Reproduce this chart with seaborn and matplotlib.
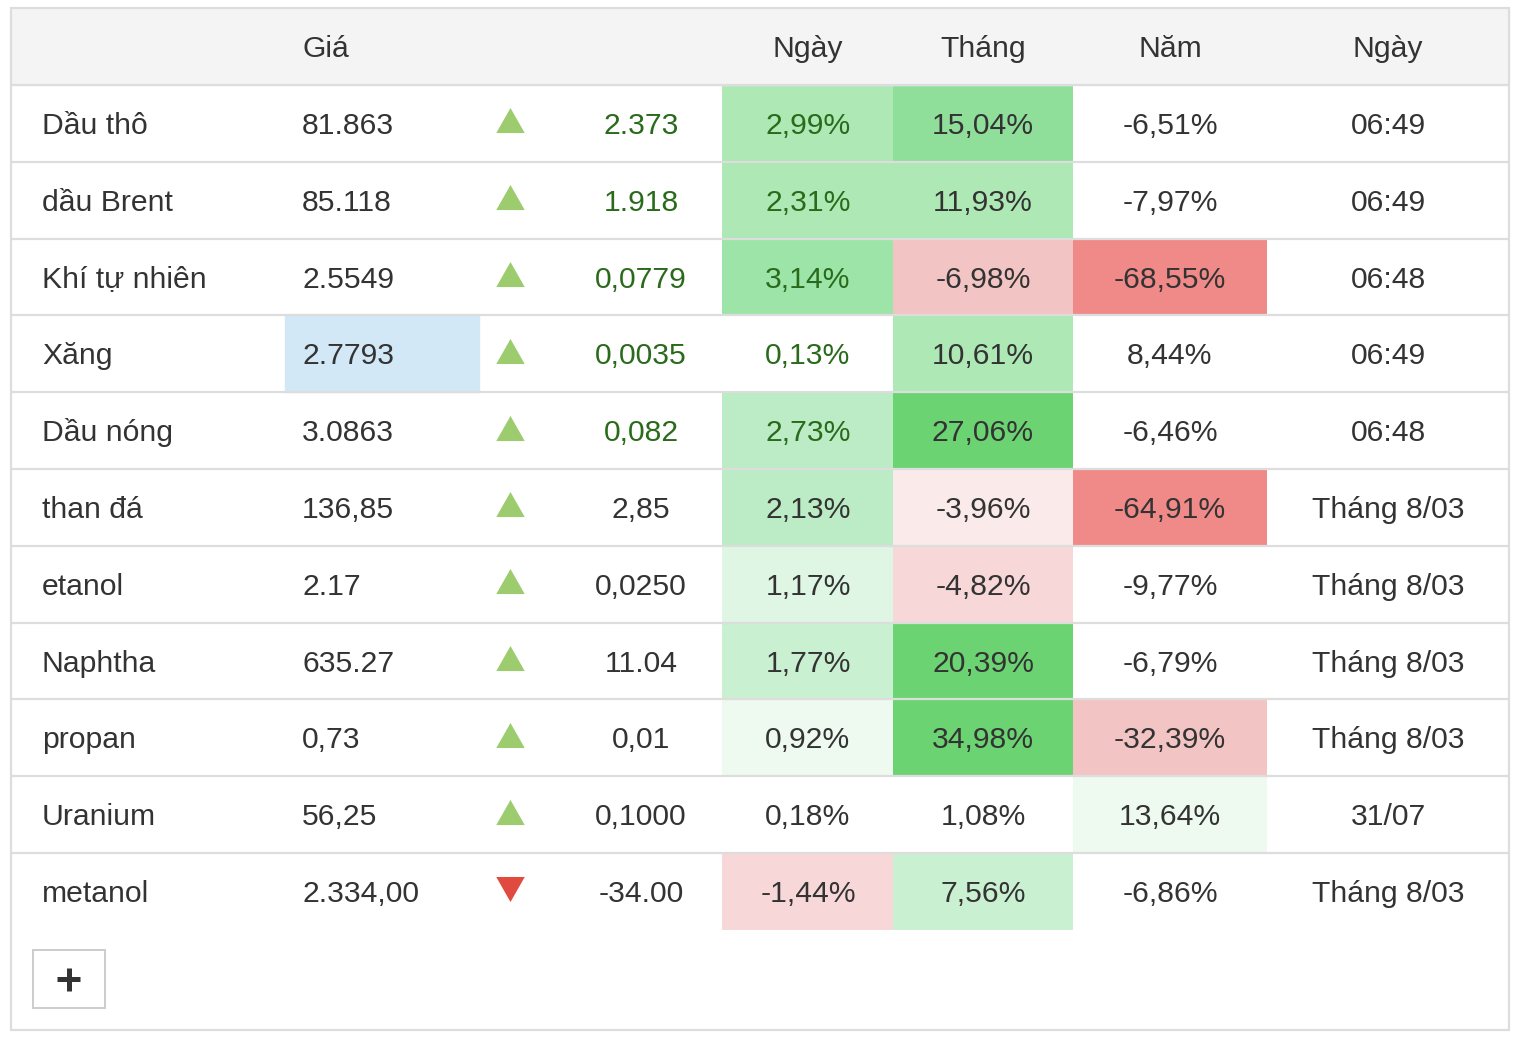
import numpy as np
import matplotlib.pyplot as plt
from matplotlib.colors import ListedColormap
from matplotlib.patches import Rectangle
import seaborn as sns

# --- table data ---
names = ["Dầu thô", "dầu Brent", "Khí tự nhiên", "Xăng", "Dầu nóng", "than đá",
         "etanol", "Naphtha", "propan", "Uranium", "metanol"]
prices = ["81.863", "85.118", "2.5549", "2.7793", "3.0863", "136,85",
          "2.17", "635.27", "0,73", "56,25", "2.334,00"]
changes = ["2.373", "1.918", "0,0779", "0,0035", "0,082", "2,85",
           "0,0250", "11.04", "0,01", "0,1000", "-34.00"]
direction = [1, 1, 1, 1, 1, 1, 1, 1, 1, 1, -1]
day_pct = ["2,99%", "2,31%", "3,14%", "0,13%", "2,73%", "2,13%",
           "1,17%", "1,77%", "0,92%", "0,18%", "-1,44%"]
month_pct = ["15,04%", "11,93%", "-6,98%", "10,61%", "27,06%", "-3,96%",
             "-4,82%", "20,39%", "34,98%", "1,08%", "7,56%"]
year_pct = ["-6,51%", "-7,97%", "-68,55%", "8,44%", "-6,46%", "-64,91%",
            "-9,77%", "-6,79%", "-32,39%", "13,64%", "-6,86%"]
times = ["06:49", "06:49", "06:48", "06:49", "06:48", "Tháng 8/03",
         "Tháng 8/03", "Tháng 8/03", "Tháng 8/03", "31/07", "Tháng 8/03"]
headers = ["", "Giá", "", "", "Ngày", "Tháng", "Năm", "Ngày"]
live = [True, True, True, True, True, False, False, False, False, False, False]

# --- cell shading (heatmap style colours) ---
day_bg = ["#ade8b5", "#ade8b5", "#9de4a8", "#ffffff", "#bbecc5", "#bbecc5",
          "#def6e3", "#caf0d2", "#eef9ef", "#ffffff", "#f8d7d9"]
month_bg = ["#8fdf9b", "#ade8b5", "#f3c4c4", "#ade8b5", "#6cd372", "#fbeaea",
            "#f8d7d9", "#6cd372", "#6cd372", "#ffffff", "#caf0d2"]
year_bg = ["#ffffff", "#ffffff", "#ef8a89", "#ffffff", "#ffffff", "#ef8a89",
           "#ffffff", "#ffffff", "#f3c4c4", "#eef9ef", "#ffffff"]

sns.set_style("white")
plt.rcParams['font.family'] = ['Liberation Sans', 'DejaVu Sans']

W, H = 1526, 1050
TOP, HEAD_H, ROW_H = 8, 77, 76.8
LEFT, RIGHT = 11, 1509
BODY_TOP = TOP + HEAD_H
n = len(names)
body_bottom = BODY_TOP + n * ROW_H
row_mid = BODY_TOP + ROW_H * (np.arange(n) + 0.5)

DARK = "#333333"
GREEN_TXT = "#2a6b1b"
FS = 21.7

fig = plt.figure(figsize=(W / 100, H / 100), dpi=100)
ax = fig.add_axes([0, 0, 1, 1])
ax.set_xlim(0, W)
ax.set_ylim(H, 0)
ax.axis('off')
ax.set_zorder(2)
ax.patch.set_alpha(0)

# coloured percentage columns, one heatmap strip each
pct_cols = [(722, 893, day_bg), (893, 1073, month_bg), (1073, 1267, year_bg)]
for lo, hi, bg in pct_cols:
    hax = fig.add_axes([lo / W, 1 - body_bottom / H, (hi - lo) / W, n * ROW_H / H])
    hax.set_zorder(1)
    idx = np.arange(n).reshape(-1, 1)
    sns.heatmap(idx, cmap=ListedColormap(bg), vmin=-0.5, vmax=n - 0.5,
                cbar=False, xticklabels=False, yticklabels=False, ax=hax)
    hax.set_axis_off()

# header band and highlighted price cell
ax.add_patch(Rectangle((LEFT, TOP), RIGHT - LEFT, HEAD_H, color="#f4f4f4", zorder=0))
ax.add_patch(Rectangle((285, BODY_TOP + 3 * ROW_H), 194, ROW_H, color="#d2e8f6", zorder=0))

# row separators + outer frame
ax.hlines(BODY_TOP + ROW_H * np.arange(n), LEFT, RIGHT, color="#dddddd", lw=1.6, zorder=3)
ax.add_patch(Rectangle((LEFT, TOP), RIGHT - LEFT, 1030 - TOP, fill=False,
                       edgecolor="#dddddd", lw=1.6, zorder=3))

# header text
head_x = [42, 302, 510, 641, 808, 983, 1170, 1388]
head_ha = ["left", "left", "center", "center", "center", "center", "center", "center"]
base_head = TOP + HEAD_H / 2 + 10.5
for x, ha, label in zip(head_x, head_ha, headers):
    ax.text(x, base_head, label, ha=ha, va="baseline", fontsize=FS, color=DARK)

# body text
for i in range(n):
    yb = row_mid[i] + 10.5
    ax.text(42, yb, names[i], ha="left", va="baseline", fontsize=FS, color=DARK)
    ax.text(302, yb, prices[i], ha="left", va="baseline", fontsize=FS, color=DARK)
    c = GREEN_TXT if live[i] else DARK
    ax.text(641, yb, changes[i], ha="center", va="baseline", fontsize=FS, color=c)
    ax.text(808, yb, day_pct[i], ha="center", va="baseline", fontsize=FS, color=c)
    ax.text(983, yb, month_pct[i], ha="center", va="baseline", fontsize=FS, color=DARK)
    ax.text(1170, yb, year_pct[i], ha="center", va="baseline", fontsize=FS, color=DARK)
    ax.text(1388, yb, times[i], ha="center", va="baseline", fontsize=FS, color=DARK)

# up / down arrows
dirs = np.array(direction)
up = [(-1, -0.88), (1, -0.88), (0, 0.88)]
down = [(-1, 0.88), (1, 0.88), (0, -0.88)]
sns.scatterplot(x=np.full((dirs > 0).sum(), 510), y=row_mid[dirs > 0] - 3,
                marker=up, s=420, color="#9ccc6e", linewidth=0, ax=ax, zorder=4)
sns.scatterplot(x=np.full((dirs < 0).sum(), 510), y=row_mid[dirs < 0] - 2.5,
                marker=down, s=420, color="#e04a3f", linewidth=0, ax=ax, zorder=4)
ax.set_xlim(0, W)
ax.set_ylim(H, 0)
ax.axis('off')

# "+" button below the table
ax.add_patch(Rectangle((33, 950), 72, 58, fill=False, edgecolor="#cccccc", lw=1.4, zorder=3))
ax.plot([57, 80], [979, 979], color=DARK, lw=3.6, solid_capstyle="butt", zorder=4)
ax.plot([68.5, 68.5], [967.5, 990.5], color=DARK, lw=3.6, solid_capstyle="butt", zorder=4)

fig.savefig("out.png", dpi=100)
